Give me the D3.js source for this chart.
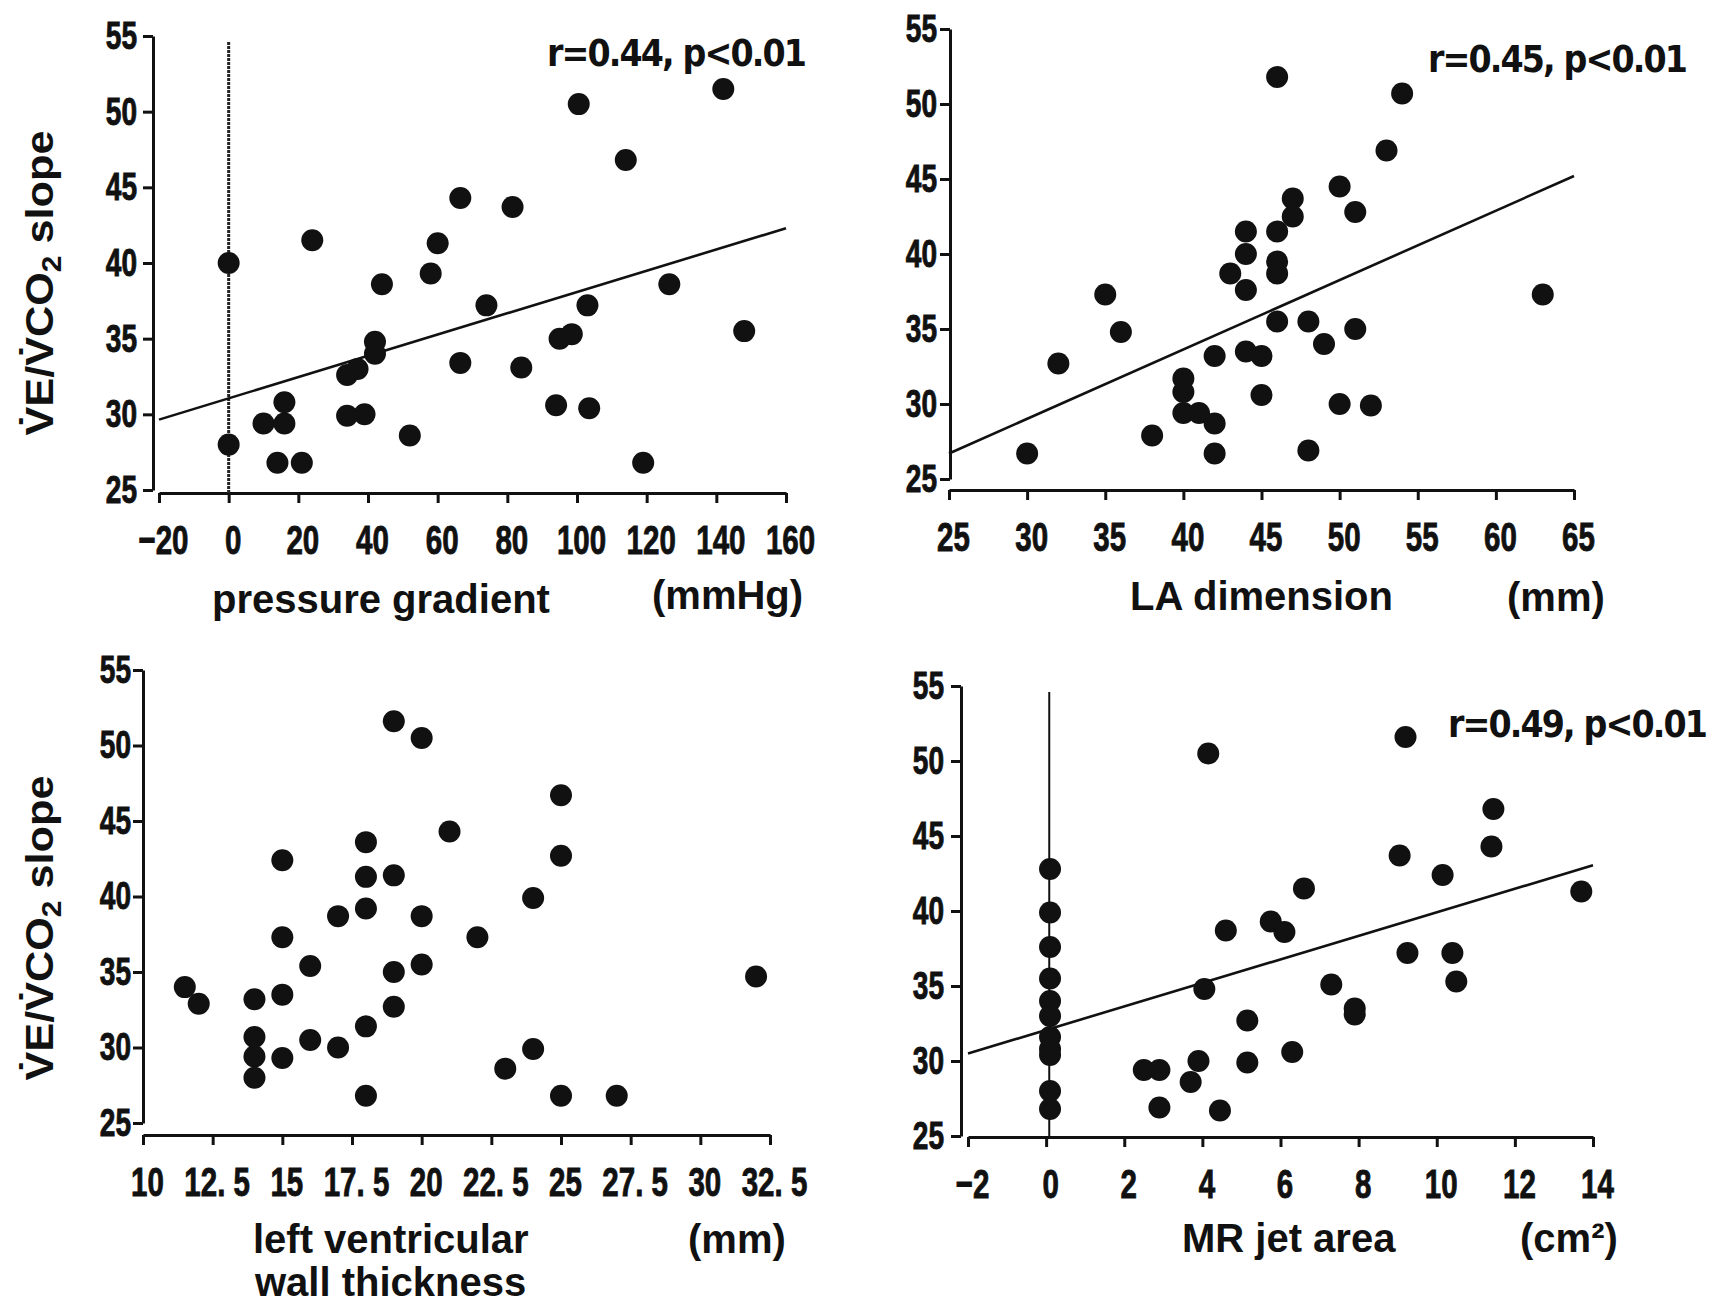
<!DOCTYPE html>
<html>
<head>
<meta charset="utf-8">
<script src="https://cdn.jsdelivr.net/npm/d3@7"></script>
<style>
  body { margin: 0; background: #fff; }
</style>
</head>
<body>
<svg id="fig"></svg>
<script>
// ---- data ----
const yTicks = [25, 30, 35, 40, 45, 50, 55];

// pressure gradient (mmHg) vs VE/VCO2 slope
const pgX = [0, 0, 10, 14, 16, 16, 21, 24, 34, 37, 34, 39, 42, 42, 44, 52, 58, 60, 66.5, 66.5,
  74, 81.5, 84, 94, 95, 98.5, 100.5, 103, 103.5, 114, 119, 126.5, 142, 148];
const pgY = [40, 28, 29.4, 26.8, 30.8, 29.4, 26.8, 41.5, 32.6, 33, 29.9, 30, 34.8, 34, 38.6, 28.6, 39.3, 41.3, 44.3, 33.4,
  37.2, 43.7, 33.1, 30.6, 35, 35.3, 50.5, 37.2, 30.4, 46.8, 26.8, 38.6, 51.5, 35.5];
const pgTicks = [-20, 0, 20, 40, 60, 80, 100, 120, 140, 160];
const pgFit = [[-20, 29.65], [160, 42.3]];

// LA dimension (mm)
const laX = [30, 32, 35, 36, 38, 40, 40, 40, 41, 42, 42, 42, 43, 44, 44, 44, 44, 45, 45,
  46, 46, 46, 46, 46, 47, 47, 48, 48, 49, 50, 50, 51, 51, 52, 53, 54, 63];
const laY = [26.7, 32.7, 37.3, 34.8, 27.9, 31.7, 30.8, 29.4, 29.4, 28.7, 26.7, 33.2, 38.7, 41.5, 40, 37.6, 33.5, 33.2, 30.6,
  51.8, 41.5, 39.5, 38.7, 35.5, 43.7, 42.5, 35.5, 26.9, 34, 44.5, 30, 42.8, 35, 29.9, 46.9, 50.7, 37.3];
const laTicks = [25, 30, 35, 40, 45, 50, 55, 60, 65];
const laFit = [[25, 26.7], [65, 45.2]];

// left ventricular wall thickness (mm)
const lvX = [11.5, 12, 14, 14, 14, 14, 15, 15, 15, 15, 16, 16, 17, 17, 18, 18, 18, 18, 18,
  19, 19, 19, 19, 20, 20, 20, 21, 22, 23, 24, 24, 25, 25, 25, 27, 32];
const lvY = [34, 32.9, 33.2, 30.7, 29.4, 28, 42.4, 37.3, 33.5, 29.3, 35.4, 30.5, 38.7, 30, 43.6, 41.3, 39.2, 31.4, 26.8,
  51.6, 41.4, 35, 32.7, 50.5, 38.7, 35.5, 44.3, 37.3, 28.6, 39.9, 29.9, 46.7, 42.7, 26.8, 26.8, 34.7];
const lvTicks = [10, 12.5, 15, 17.5, 20, 22.5, 25, 27.5, 30, 32.5];
const lvTickLabels = ["10", "12. 5", "15", "17. 5", "20", "22. 5", "25", "27. 5", "30", "32. 5"];

// MR jet area (cm2)
const mrX = [0.1, 0.1, 0.1, 0.1, 0.1, 0.1, 0.1, 0.1, 0.1, 0.1, 0.1,
  2.5, 2.9, 2.9, 3.7, 3.9, 4.05, 4.15, 4.45, 4.6, 5.15, 5.15, 5.75, 6.1, 6.3, 6.6,
  7.3, 7.9, 7.9, 9.05, 9.2, 9.25, 10.15, 10.4, 10.5, 11.4, 11.45, 13.7];
const mrY = [42.8, 39.9, 37.6, 35.5, 34, 33, 31.6, 30.8, 30.4, 28, 26.8,
  29.4, 29.4, 26.9, 28.6, 30, 34.8, 50.5, 26.7, 38.7, 29.9, 32.7, 39.3, 38.6, 30.6, 41.5,
  35.1, 33.5, 33.1, 43.7, 51.6, 37.2, 42.4, 37.2, 35.3, 44.3, 46.8, 41.3];
const mrTicks = [-2, 0, 2, 4, 6, 8, 10, 12, 14];
const mrFit = [[-2, 30.5], [14, 43.05]];

const rLabels = ["r=0.44, p<0.01", "r=0.45, p<0.01", "r=0.49, p<0.01"];

// ---- drawing ----
const W = 1730, H = 1304;
const svg = d3.select("#fig").attr("width", W).attr("height", H);
svg.append("rect").attr("width", W).attr("height", H).attr("fill", "#fff");

const INK = "#111";
const txtFont = "'Liberation Sans',Arial,sans-serif";
const narrowFont = "'Liberation Sans Narrow','DejaVu Sans Condensed',sans-serif";
const SQ = 0.72; // horizontal squeeze for the condensed tick numerals
const fmt = d => d < 0 ? "\u2212" + Math.abs(d) : String(d);

function styleNums(sel) {
  sel.attr("fill", INK).attr("stroke", INK).attr("stroke-width", 0.9)
    .attr("transform", `scale(${SQ},1)`)
    .style("font-family", txtFont).style("font-weight", "bold");
}

function drawPanel(p) {
  const x = d3.scaleLinear().domain([p.ticks[0], p.ticks[p.ticks.length - 1]]).range(p.xRange);
  const y = d3.scaleLinear().domain([25, 55]).range(p.yRange);
  const g = svg.append("g");

  // y axis
  g.append("g")
    .attr("transform", `translate(${p.yAxisX},0)`)
    .call(d3.axisLeft(y).tickValues(yTicks).tickSize(10).tickSizeOuter(0).tickPadding(p.yPad))
    .call(ax => {
      ax.select(".domain").attr("stroke", INK).attr("stroke-width", 3);
      ax.selectAll(".tick line").attr("stroke", INK).attr("stroke-width", 3);
      ax.selectAll(".tick text").call(styleNums)
        .attr("x", -(10 + p.yPad) / SQ)
        .style("font-size", "39px");
    });

  // x axis
  g.append("g")
    .attr("transform", `translate(0,${p.xAxisY})`)
    .call(d3.axisBottom(x).tickValues(p.ticks)
      .tickFormat((d, i) => p.tickLabels ? p.tickLabels[i] : fmt(d))
      .tickSize(10).tickSizeOuter(0).tickPadding(22))
    .call(ax => {
      ax.select(".domain").attr("stroke", INK).attr("stroke-width", 3);
      ax.selectAll(".tick line").attr("stroke", INK).attr("stroke-width", 3);
      ax.selectAll(".tick text").call(styleNums)
        .attr("dx", 4 / SQ)
        .style("font-size", "41px");
    });

  // vertical reference line at x = ref
  if (p.ref !== undefined) {
    g.append("line")
      .attr("x1", x(p.ref)).attr("x2", x(p.ref))
      .attr("y1", y(54.6)).attr("y2", p.xAxisY)
      .attr("stroke", p.refDash ? "#222" : INK)
      .attr("stroke-width", p.refDash ? 3 : 2)
      .attr("stroke-dasharray", p.refDash ? "3,1" : null);
  }

  // regression line
  if (p.fit) {
    g.append("path")
      .attr("d", d3.line().x(d => x(d[0])).y(d => y(d[1]))(p.fit))
      .attr("fill", "none").attr("stroke", INK).attr("stroke-width", 2.6);
  }

  // points
  g.append("g").selectAll("circle")
    .data(d3.zip(p.xs, p.ys)).join("circle")
    .attr("cx", d => x(d[0])).attr("cy", d => y(d[1]))
    .attr("r", 11).attr("fill", INK);

  // correlation label
  if (p.r) {
    g.append("text")
      .attr("x", p.r.x).attr("y", p.r.y)
      .attr("textLength", 260).attr("lengthAdjust", "spacing")
      .style("font-family", narrowFont).style("font-weight", "bold").style("font-size", "37px")
      .attr("fill", INK).text(p.r.text);
  }

  // x title + unit
  p.titles.forEach(t => {
    g.append("text").attr("x", t.x).attr("y", t.y)
      .style("font-family", txtFont).style("font-weight", "bold").style("font-size", "40px")
      .attr("fill", INK).text(t.text);
  });

  // y title
  if (p.yTitle) {
    const yt = g.append("text")
      .attr("transform", `translate(53,${p.yTitle}) rotate(-90)`)
      .attr("text-anchor", "middle")
      .attr("textLength", 305).attr("lengthAdjust", "spacingAndGlyphs")
      .style("font-family", txtFont).style("font-weight", "bold").style("font-size", "39px")
      .attr("fill", INK);
    yt.append("tspan").text("V\u0307E/V\u0307CO");
    yt.append("tspan").attr("dy", 8).style("font-size", "27px").text("2");
    yt.append("tspan").attr("dy", -8).text(" slope");
  }
}

drawPanel({
  xs: pgX, ys: pgY, ticks: pgTicks, fit: pgFit,
  xRange: [159, 786], yRange: [490, 36], yAxisX: 153, xAxisY: 493, yPad: 6,
  ref: 0, refDash: true,
  r: { x: 547, y: 66, text: rLabels[0] },
  titles: [{ x: 212, y: 613, text: "pressure gradient" }, { x: 652, y: 609, text: "(mmHg)" }],
  yTitle: 283
});

drawPanel({
  xs: laX, ys: laY, ticks: laTicks, fit: laFit,
  xRange: [949, 1574], yRange: [479, 29], yAxisX: 950, xAxisY: 490, yPad: 3,
  r: { x: 1428, y: 72, text: rLabels[1] },
  titles: [{ x: 1130, y: 610, text: "LA dimension" }, { x: 1507, y: 611, text: "(mm)" }]
});

drawPanel({
  xs: lvX, ys: lvY, ticks: lvTicks, tickLabels: lvTickLabels,
  xRange: [143, 770], yRange: [1123, 670], yAxisX: 143, xAxisY: 1135, yPad: 2,
  titles: [{ x: 253, y: 1253, text: "left ventricular" }, { x: 255, y: 1296, text: "wall thickness" },
    { x: 688, y: 1253, text: "(mm)" }],
  yTitle: 928
});

drawPanel({
  xs: mrX, ys: mrY, ticks: mrTicks, fit: mrFit,
  xRange: [968, 1593], yRange: [1136, 686], yAxisX: 961, xAxisY: 1137, yPad: 7,
  ref: 0.08, refDash: false,
  r: { x: 1448, y: 737, text: rLabels[2] },
  titles: [{ x: 1182, y: 1252, text: "MR jet area" }, { x: 1520, y: 1252, text: "(cm\u00B2)" }]
});
</script>
</body>
</html>
